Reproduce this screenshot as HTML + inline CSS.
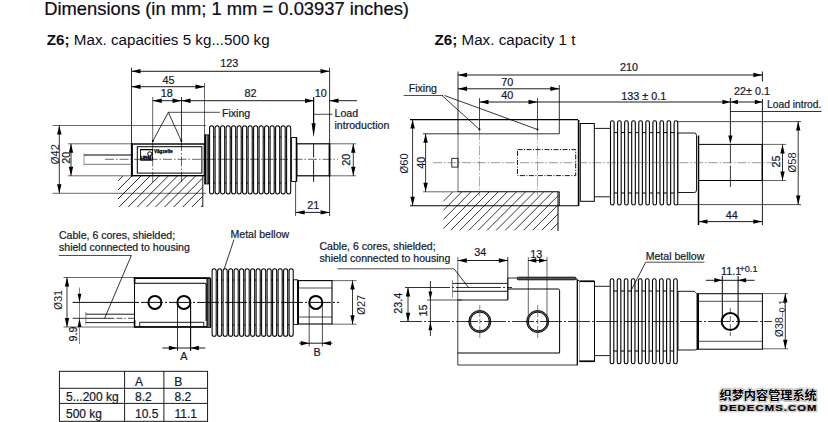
<!DOCTYPE html>
<html><head><meta charset="utf-8"><title>Dimensions Z6</title>
<style>
html,body{margin:0;padding:0;background:#fff;}
body{width:828px;height:422px;overflow:hidden;font-family:"Liberation Sans","Noto Sans CJK SC",sans-serif;}
svg{display:block;font-family:"Liberation Sans","Noto Sans CJK SC",sans-serif;}
</style></head><body>
<svg width="828" height="422" viewBox="0 0 828 422">
<rect width="828" height="422" fill="#fff"/>
<text x="44.2" y="14.8" font-size="18.36" text-anchor="start" fill="#0c0c18" stroke="#0c0c18" stroke-width="0.22">Dimensions (in mm; 1 mm = 0.03937 inches)</text>
<text x="46.8" y="44.6" font-size="15.2" fill="#0c0c18"><tspan font-weight="bold">Z6;</tspan> Max. capacities 5 kg...500 kg</text>
<text x="434.5" y="44.6" font-size="15.2" fill="#0c0c18"><tspan font-weight="bold">Z6;</tspan> Max. capacity 1 t</text>
<clipPath id="h1"><polygon points="118,176 202.6,176 202.6,207 118,207"/></clipPath>
<g clip-path="url(#h1)">
<line x1="113.70" y1="176" x2="82.70" y2="207" stroke="#000" stroke-width="0.85"/>
<line x1="122.80" y1="176" x2="91.80" y2="207" stroke="#000" stroke-width="0.85"/>
<line x1="131.90" y1="176" x2="100.90" y2="207" stroke="#000" stroke-width="0.85"/>
<line x1="141.00" y1="176" x2="110.00" y2="207" stroke="#000" stroke-width="0.85"/>
<line x1="150.10" y1="176" x2="119.10" y2="207" stroke="#000" stroke-width="0.85"/>
<line x1="159.20" y1="176" x2="128.20" y2="207" stroke="#000" stroke-width="0.85"/>
<line x1="168.30" y1="176" x2="137.30" y2="207" stroke="#000" stroke-width="0.85"/>
<line x1="177.40" y1="176" x2="146.40" y2="207" stroke="#000" stroke-width="0.85"/>
<line x1="186.50" y1="176" x2="155.50" y2="207" stroke="#000" stroke-width="0.85"/>
<line x1="195.60" y1="176" x2="164.60" y2="207" stroke="#000" stroke-width="0.85"/>
<line x1="204.70" y1="176" x2="173.70" y2="207" stroke="#000" stroke-width="0.85"/>
<line x1="213.80" y1="176" x2="182.80" y2="207" stroke="#000" stroke-width="0.85"/>
<line x1="222.90" y1="176" x2="191.90" y2="207" stroke="#000" stroke-width="0.85"/>
<line x1="232.00" y1="176" x2="201.00" y2="207" stroke="#000" stroke-width="0.85"/>
<line x1="241.10" y1="176" x2="210.10" y2="207" stroke="#000" stroke-width="0.85"/>
<line x1="250.20" y1="176" x2="219.20" y2="207" stroke="#000" stroke-width="0.85"/>
<line x1="259.30" y1="176" x2="228.30" y2="207" stroke="#000" stroke-width="0.85"/>
</g>
<line x1="202.8" y1="176" x2="202.8" y2="207" stroke="#000" stroke-width="0.9"/>
<line x1="52.5" y1="125.5" x2="206" y2="125.5" stroke="#000" stroke-width="0.6"/>
<line x1="52.5" y1="193.3" x2="206" y2="193.3" stroke="#000" stroke-width="0.6"/>
<line x1="59.3" y1="125.5" x2="59.3" y2="193.3" stroke="#000" stroke-width="0.8"/>
<polygon points="59.3,125.5 61.50,134.50 57.10,134.50" fill="#000"/>
<polygon points="59.3,193.3 57.10,184.30 61.50,184.30" fill="#000"/>
<text x="58.6" y="154.2" font-size="11" text-anchor="middle" fill="#15192e" transform="rotate(-90 58.6 154.2)"><tspan font-size="10">Ø</tspan>42</text>
<line x1="68" y1="143.8" x2="131" y2="143.8" stroke="#000" stroke-width="0.6"/>
<line x1="68" y1="175.8" x2="131" y2="175.8" stroke="#000" stroke-width="0.6"/>
<line x1="71" y1="143.8" x2="71" y2="175.8" stroke="#000" stroke-width="0.8"/>
<polygon points="71,143.8 73.20,152.80 68.80,152.80" fill="#000"/>
<polygon points="71,175.8 68.80,166.80 73.20,166.80" fill="#000"/>
<text x="70.4" y="157.8" font-size="10.8" text-anchor="middle" fill="#15192e" stroke="#15192e" stroke-width="0.22" transform="rotate(-90 70.4 157.8)">20</text>
<line x1="84" y1="155" x2="131.5" y2="155" stroke="#000" stroke-width="1.0"/>
<line x1="84" y1="164.3" x2="131.5" y2="164.3" stroke="#444" stroke-width="0.7"/>
<line x1="84" y1="153.5" x2="84" y2="165.5" stroke="#555" stroke-width="0.6"/>
<rect x="131.9" y="144" width="72.5" height="31.7" rx="0" fill="#fff" stroke="#000" stroke-width="1.4"/>
<line x1="131.8" y1="143.2" x2="131.8" y2="176.4" stroke="#000" stroke-width="1.8"/>
<rect x="137.3" y="146.7" width="64.6" height="26.4" rx="0" fill="none" stroke="#000" stroke-width="1.0"/>
<rect x="140.6" y="149.6" width="11.8" height="10.6" rx="0" fill="none" stroke="#000" stroke-width="0.9"/>
<line x1="140.2" y1="149.6" x2="152.8" y2="149.6" stroke="#000" stroke-width="1.2"/>
<circle cx="149.8" cy="153.9" r="2.1" fill="#fff" stroke="#000" stroke-width="1"/>
<text x="140.4" y="160.4" font-size="4.9" font-weight="bold" fill="#000" stroke="#000" stroke-width="0.35" letter-spacing="-0.1">HBM</text>
<text x="153.9" y="153.1" font-size="4.7" font-weight="bold" fill="#000" stroke="#000" stroke-width="0.25">Vägzelle</text>
<line x1="131.5" y1="67.6" x2="131.5" y2="143" stroke="#000" stroke-width="0.8"/>
<line x1="329.6" y1="67.6" x2="329.6" y2="216" stroke="#000" stroke-width="0.8"/>
<line x1="131.5" y1="71.3" x2="329.5" y2="71.3" stroke="#000" stroke-width="0.9"/>
<polygon points="131.5,71.3 140.50,69.10 140.50,73.50" fill="#000"/>
<polygon points="329.5,71.3 320.50,73.50 320.50,69.10" fill="#000"/>
<text x="229.2" y="66.8" font-size="10.8" text-anchor="middle" fill="#15192e" stroke="#15192e" stroke-width="0.22">123</text>
<line x1="204.5" y1="83" x2="204.5" y2="143" stroke="#000" stroke-width="0.6"/>
<line x1="131.5" y1="86.7" x2="204.5" y2="86.7" stroke="#000" stroke-width="0.9"/>
<polygon points="131.5,86.7 140.50,84.50 140.50,88.90" fill="#000"/>
<polygon points="204.5,86.7 195.50,88.90 195.50,84.50" fill="#000"/>
<text x="168.5" y="83.5" font-size="10.8" text-anchor="middle" fill="#15192e" stroke="#15192e" stroke-width="0.22">45</text>
<line x1="152.7" y1="141" x2="152.7" y2="182" stroke="#000" stroke-width="0.6" stroke-dasharray="10 2 1.5 2"/>
<line x1="181.5" y1="141" x2="181.5" y2="182" stroke="#000" stroke-width="0.6" stroke-dasharray="10 2 1.5 2"/>
<line x1="152.7" y1="97" x2="152.7" y2="141" stroke="#000" stroke-width="0.6"/>
<line x1="181.5" y1="97" x2="181.5" y2="141" stroke="#000" stroke-width="0.8"/>
<line x1="152.7" y1="100.7" x2="314" y2="100.7" stroke="#000" stroke-width="0.9"/>
<polygon points="152.7,100.7 161.70,98.50 161.70,102.90" fill="#000"/>
<polygon points="181.5,100.7 172.50,102.90 172.50,98.50" fill="#000"/>
<polygon points="181.5,100.7 190.50,98.50 190.50,102.90" fill="#000"/>
<polygon points="314,100.7 305.00,102.90 305.00,98.50" fill="#000"/>
<polygon points="329.5,100.7 338.50,98.50 338.50,102.90" fill="#000"/>
<line x1="329.5" y1="100.7" x2="357" y2="100.7" stroke="#000" stroke-width="0.9"/>
<text x="166.7" y="96.8" font-size="10.8" text-anchor="middle" fill="#15192e" stroke="#15192e" stroke-width="0.22">18</text>
<text x="250.5" y="96.8" font-size="10.8" text-anchor="middle" fill="#15192e" stroke="#15192e" stroke-width="0.22">82</text>
<text x="320.8" y="96.8" font-size="10.8" text-anchor="middle" fill="#15192e" stroke="#15192e" stroke-width="0.22">10</text>
<path d="M152.9 141 L168.3 112.3 L181.3 141" fill="none" stroke="#000" stroke-width="0.8"/>
<line x1="168.3" y1="112.3" x2="220" y2="112.3" stroke="#000" stroke-width="0.7"/>
<circle cx="152.8" cy="141" r="1" fill="#000"/><circle cx="181.4" cy="141" r="1" fill="#000"/>
<text x="222" y="116.8" font-size="10.6" text-anchor="start" fill="#15192e" stroke="#15192e" stroke-width="0.22">Fixing</text>
<line x1="313.6" y1="97" x2="313.6" y2="130" stroke="#000" stroke-width="1.2"/>
<polygon points="313.6,137.3 311.60,123.30 315.60,123.30" fill="#000"/>
<line x1="314" y1="114.3" x2="332.5" y2="114.3" stroke="#000" stroke-width="0.7"/>
<text x="334.5" y="117" font-size="10.6" text-anchor="start" fill="#15192e" stroke="#15192e" stroke-width="0.22">Load</text>
<text x="334.5" y="128.8" font-size="10.6" text-anchor="start" fill="#15192e" stroke="#15192e" stroke-width="0.22">introduction</text>
<rect x="204.7" y="134.8" width="4.3" height="49.2" rx="0" fill="#9a9a9a" stroke="#000" stroke-width="0.8"/>
<line x1="205.5" y1="135" x2="205.5" y2="184" stroke="#000" stroke-width="1.2"/>
<line x1="208.1" y1="135" x2="208.1" y2="184" stroke="#000" stroke-width="1.0"/>
<rect x="209.60" y="125.8" width="4.1" height="68.10000000000001" rx="2.05" fill="#fff" stroke="#000" stroke-width="1.05"/>
<rect x="215.10" y="125.8" width="4.1" height="68.10000000000001" rx="2.05" fill="#fff" stroke="#000" stroke-width="1.05"/>
<rect x="220.60" y="125.8" width="4.1" height="68.10000000000001" rx="2.05" fill="#fff" stroke="#000" stroke-width="1.05"/>
<rect x="226.10" y="125.8" width="4.1" height="68.10000000000001" rx="2.05" fill="#fff" stroke="#000" stroke-width="1.05"/>
<rect x="231.60" y="125.8" width="4.1" height="68.10000000000001" rx="2.05" fill="#fff" stroke="#000" stroke-width="1.05"/>
<rect x="237.10" y="125.8" width="4.1" height="68.10000000000001" rx="2.05" fill="#fff" stroke="#000" stroke-width="1.05"/>
<rect x="242.60" y="125.8" width="4.1" height="68.10000000000001" rx="2.05" fill="#fff" stroke="#000" stroke-width="1.05"/>
<rect x="248.10" y="125.8" width="4.1" height="68.10000000000001" rx="2.05" fill="#fff" stroke="#000" stroke-width="1.05"/>
<rect x="253.60" y="125.8" width="4.1" height="68.10000000000001" rx="2.05" fill="#fff" stroke="#000" stroke-width="1.05"/>
<rect x="259.10" y="125.8" width="4.1" height="68.10000000000001" rx="2.05" fill="#fff" stroke="#000" stroke-width="1.05"/>
<rect x="264.60" y="125.8" width="4.1" height="68.10000000000001" rx="2.05" fill="#fff" stroke="#000" stroke-width="1.05"/>
<rect x="270.10" y="125.8" width="4.1" height="68.10000000000001" rx="2.05" fill="#fff" stroke="#000" stroke-width="1.05"/>
<rect x="275.60" y="125.8" width="4.1" height="68.10000000000001" rx="2.05" fill="#fff" stroke="#000" stroke-width="1.05"/>
<rect x="281.10" y="125.8" width="4.1" height="68.10000000000001" rx="2.05" fill="#fff" stroke="#000" stroke-width="1.05"/>
<rect x="286.60" y="125.8" width="4.1" height="68.10000000000001" rx="2.05" fill="#fff" stroke="#000" stroke-width="1.05"/>
<line x1="213.70" y1="137" x2="215.10" y2="137" stroke="#000" stroke-width="1.0"/>
<line x1="213.70" y1="183" x2="215.10" y2="183" stroke="#000" stroke-width="1.0"/>
<line x1="219.20" y1="137" x2="220.60" y2="137" stroke="#000" stroke-width="1.0"/>
<line x1="219.20" y1="183" x2="220.60" y2="183" stroke="#000" stroke-width="1.0"/>
<line x1="224.70" y1="137" x2="226.10" y2="137" stroke="#000" stroke-width="1.0"/>
<line x1="224.70" y1="183" x2="226.10" y2="183" stroke="#000" stroke-width="1.0"/>
<line x1="230.20" y1="137" x2="231.60" y2="137" stroke="#000" stroke-width="1.0"/>
<line x1="230.20" y1="183" x2="231.60" y2="183" stroke="#000" stroke-width="1.0"/>
<line x1="235.70" y1="137" x2="237.10" y2="137" stroke="#000" stroke-width="1.0"/>
<line x1="235.70" y1="183" x2="237.10" y2="183" stroke="#000" stroke-width="1.0"/>
<line x1="241.20" y1="137" x2="242.60" y2="137" stroke="#000" stroke-width="1.0"/>
<line x1="241.20" y1="183" x2="242.60" y2="183" stroke="#000" stroke-width="1.0"/>
<line x1="246.70" y1="137" x2="248.10" y2="137" stroke="#000" stroke-width="1.0"/>
<line x1="246.70" y1="183" x2="248.10" y2="183" stroke="#000" stroke-width="1.0"/>
<line x1="252.20" y1="137" x2="253.60" y2="137" stroke="#000" stroke-width="1.0"/>
<line x1="252.20" y1="183" x2="253.60" y2="183" stroke="#000" stroke-width="1.0"/>
<line x1="257.70" y1="137" x2="259.10" y2="137" stroke="#000" stroke-width="1.0"/>
<line x1="257.70" y1="183" x2="259.10" y2="183" stroke="#000" stroke-width="1.0"/>
<line x1="263.20" y1="137" x2="264.60" y2="137" stroke="#000" stroke-width="1.0"/>
<line x1="263.20" y1="183" x2="264.60" y2="183" stroke="#000" stroke-width="1.0"/>
<line x1="268.70" y1="137" x2="270.10" y2="137" stroke="#000" stroke-width="1.0"/>
<line x1="268.70" y1="183" x2="270.10" y2="183" stroke="#000" stroke-width="1.0"/>
<line x1="274.20" y1="137" x2="275.60" y2="137" stroke="#000" stroke-width="1.0"/>
<line x1="274.20" y1="183" x2="275.60" y2="183" stroke="#000" stroke-width="1.0"/>
<line x1="279.70" y1="137" x2="281.10" y2="137" stroke="#000" stroke-width="1.0"/>
<line x1="279.70" y1="183" x2="281.10" y2="183" stroke="#000" stroke-width="1.0"/>
<line x1="285.20" y1="137" x2="286.60" y2="137" stroke="#000" stroke-width="1.0"/>
<line x1="285.20" y1="183" x2="286.60" y2="183" stroke="#000" stroke-width="1.0"/>
<rect x="291.6" y="137.5" width="4.8" height="44" rx="0" fill="#fff" stroke="#000" stroke-width="0.9"/>
<line x1="296.5" y1="137.5" x2="296.5" y2="181.5" stroke="#000" stroke-width="1.5"/>
<rect x="296.9" y="143.8" width="32.6" height="32" rx="0" fill="#fff" stroke="#000" stroke-width="1.2"/>
<line x1="329.5" y1="143.2" x2="329.5" y2="176.4" stroke="#000" stroke-width="1.6"/>
<line x1="313.6" y1="143.8" x2="313.6" y2="182" stroke="#000" stroke-width="0.9" stroke-dasharray="13.5 3 21.5 3"/>
<line x1="105" y1="159.3" x2="338" y2="159.3" stroke="#000" stroke-width="0.6" stroke-dasharray="9 2 1.5 2"/>
<line x1="329.5" y1="143.8" x2="356" y2="143.8" stroke="#000" stroke-width="0.6"/>
<line x1="329.5" y1="175.8" x2="356" y2="175.8" stroke="#000" stroke-width="0.6"/>
<line x1="353.3" y1="143.8" x2="353.3" y2="175.8" stroke="#000" stroke-width="0.8"/>
<polygon points="353.3,143.8 355.50,152.80 351.10,152.80" fill="#000"/>
<polygon points="353.3,175.8 351.10,166.80 355.50,166.80" fill="#000"/>
<text x="350.3" y="159.8" font-size="10.8" text-anchor="middle" fill="#15192e" stroke="#15192e" stroke-width="0.22" transform="rotate(-90 350.3 159.8)">20</text>
<line x1="295.6" y1="181" x2="295.6" y2="216" stroke="#000" stroke-width="0.7"/>
<line x1="295.6" y1="212.4" x2="329.6" y2="212.4" stroke="#000" stroke-width="0.9"/>
<polygon points="295.6,212.4 304.60,210.20 304.60,214.60" fill="#000"/>
<polygon points="329.6,212.4 320.60,214.60 320.60,210.20" fill="#000"/>
<text x="313.2" y="209" font-size="10.8" text-anchor="middle" fill="#15192e" stroke="#15192e" stroke-width="0.22">21</text>
<text x="59" y="238.6" font-size="10.55" text-anchor="start" fill="#15192e" stroke="#15192e" stroke-width="0.22">Cable, 6 cores, shielded;</text>
<text x="59" y="251.1" font-size="10.55" text-anchor="start" fill="#15192e" stroke="#15192e" stroke-width="0.22">shield connected to housing</text>
<line x1="58.8" y1="255.5" x2="131.3" y2="255.5" stroke="#000" stroke-width="0.7"/>
<line x1="131.3" y1="255.5" x2="104.5" y2="318.5" stroke="#000" stroke-width="0.8"/>
<text x="230.5" y="237.5" font-size="10.55" text-anchor="start" fill="#15192e" stroke="#15192e" stroke-width="0.22">Metal bellow</text>
<line x1="234" y1="239.5" x2="223.5" y2="271" stroke="#000" stroke-width="0.8"/>
<line x1="63.5" y1="277.5" x2="134.5" y2="277.5" stroke="#000" stroke-width="0.6"/>
<line x1="63.5" y1="327" x2="134.5" y2="327" stroke="#000" stroke-width="0.6"/>
<line x1="67" y1="277.5" x2="67" y2="327" stroke="#000" stroke-width="0.8"/>
<polygon points="67,277.5 69.20,286.50 64.80,286.50" fill="#000"/>
<polygon points="67,327 64.80,318.00 69.20,318.00" fill="#000"/>
<text x="61.6" y="299.8" font-size="11" text-anchor="middle" fill="#15192e" transform="rotate(-90 61.6 299.8)"><tspan font-size="10">Ø</tspan>31</text>
<line x1="79.5" y1="287.5" x2="79.5" y2="344" stroke="#333" stroke-width="0.6"/>
<polygon points="79.5,302.3 77.60,293.80 81.40,293.80" fill="#000"/>
<polygon points="79.5,318.6 81.40,327.10 77.60,327.10" fill="#000"/>
<line x1="72.5" y1="318.3" x2="86" y2="318.3" stroke="#000" stroke-width="0.8"/>
<text x="77.2" y="334" font-size="10.8" text-anchor="middle" fill="#15192e" stroke="#15192e" stroke-width="0.22" transform="rotate(-90 77.2 334)">9.9</text>
<line x1="85.8" y1="314.2" x2="134.5" y2="314.2" stroke="#000" stroke-width="0.9"/>
<line x1="85.8" y1="322.6" x2="134.5" y2="322.6" stroke="#000" stroke-width="0.9"/>
<line x1="85.8" y1="312" x2="85.8" y2="324.5" stroke="#444" stroke-width="0.6"/>
<line x1="86" y1="318.3" x2="113" y2="318.3" stroke="#000" stroke-width="0.8"/>
<line x1="113" y1="318.3" x2="137" y2="318.3" stroke="#000" stroke-width="0.7" stroke-dasharray="1.5 2 6 2"/>
<rect x="134.5" y="278.2" width="72.6" height="48.7" rx="0" fill="#fff" stroke="#000" stroke-width="1.0"/>
<line x1="133.8" y1="278.2" x2="210.4" y2="278.2" stroke="#000" stroke-width="1.7"/>
<line x1="134.5" y1="327" x2="207.2" y2="327" stroke="#000" stroke-width="1.4"/>
<line x1="134.6" y1="277.4" x2="134.6" y2="284" stroke="#000" stroke-width="1.6"/>
<line x1="134.6" y1="320" x2="134.6" y2="327.6" stroke="#000" stroke-width="1.6"/>
<path d="M134.6 283.2 H204.7 Q206.2 283.2 206.2 284.7 V321" fill="none" stroke="#000" stroke-width="1.15"/>
<path d="M139.7 327 V322.3 H203.8 V327" fill="none" stroke="#000" stroke-width="0.9"/>
<circle cx="154.9" cy="302.4" r="6.5" fill="none" stroke="#000" stroke-width="2.0"/>
<circle cx="183.9" cy="302.4" r="6.5" fill="none" stroke="#000" stroke-width="2.0"/>
<line x1="177.5" y1="302.5" x2="177.5" y2="351" stroke="#000" stroke-width="0.8"/>
<line x1="190.6" y1="302.5" x2="190.6" y2="351" stroke="#000" stroke-width="1.1"/>
<line x1="162.4" y1="348" x2="205.4" y2="348" stroke="#000" stroke-width="0.9"/>
<polygon points="177.4,348 168.90,350.20 168.90,345.80" fill="#000"/>
<polygon points="190.4,348 198.90,345.80 198.90,350.20" fill="#000"/>
<text x="183.9" y="360.2" font-size="10.8" text-anchor="middle" fill="#15192e" stroke="#15192e" stroke-width="0.22">A</text>
<rect x="207.2" y="278.5" width="3.4" height="49" rx="0" fill="#6a6a6a" stroke="#000" stroke-width="0.8"/>
<line x1="210.6" y1="278.5" x2="210.6" y2="327.5" stroke="#000" stroke-width="1.2"/>
<rect x="212.10" y="268.8" width="4.1" height="67.5" rx="2.05" fill="#fff" stroke="#000" stroke-width="1.05"/>
<rect x="217.60" y="268.8" width="4.1" height="67.5" rx="2.05" fill="#fff" stroke="#000" stroke-width="1.05"/>
<rect x="223.10" y="268.8" width="4.1" height="67.5" rx="2.05" fill="#fff" stroke="#000" stroke-width="1.05"/>
<rect x="228.60" y="268.8" width="4.1" height="67.5" rx="2.05" fill="#fff" stroke="#000" stroke-width="1.05"/>
<rect x="234.10" y="268.8" width="4.1" height="67.5" rx="2.05" fill="#fff" stroke="#000" stroke-width="1.05"/>
<rect x="239.60" y="268.8" width="4.1" height="67.5" rx="2.05" fill="#fff" stroke="#000" stroke-width="1.05"/>
<rect x="245.10" y="268.8" width="4.1" height="67.5" rx="2.05" fill="#fff" stroke="#000" stroke-width="1.05"/>
<rect x="250.60" y="268.8" width="4.1" height="67.5" rx="2.05" fill="#fff" stroke="#000" stroke-width="1.05"/>
<rect x="256.10" y="268.8" width="4.1" height="67.5" rx="2.05" fill="#fff" stroke="#000" stroke-width="1.05"/>
<rect x="261.60" y="268.8" width="4.1" height="67.5" rx="2.05" fill="#fff" stroke="#000" stroke-width="1.05"/>
<rect x="267.10" y="268.8" width="4.1" height="67.5" rx="2.05" fill="#fff" stroke="#000" stroke-width="1.05"/>
<rect x="272.60" y="268.8" width="4.1" height="67.5" rx="2.05" fill="#fff" stroke="#000" stroke-width="1.05"/>
<rect x="278.10" y="268.8" width="4.1" height="67.5" rx="2.05" fill="#fff" stroke="#000" stroke-width="1.05"/>
<rect x="283.60" y="268.8" width="4.1" height="67.5" rx="2.05" fill="#fff" stroke="#000" stroke-width="1.05"/>
<rect x="289.10" y="268.8" width="4.1" height="67.5" rx="2.05" fill="#fff" stroke="#000" stroke-width="1.05"/>
<line x1="216.20" y1="280" x2="217.60" y2="280" stroke="#000" stroke-width="1.0"/>
<line x1="216.20" y1="325" x2="217.60" y2="325" stroke="#000" stroke-width="1.0"/>
<line x1="221.70" y1="280" x2="223.10" y2="280" stroke="#000" stroke-width="1.0"/>
<line x1="221.70" y1="325" x2="223.10" y2="325" stroke="#000" stroke-width="1.0"/>
<line x1="227.20" y1="280" x2="228.60" y2="280" stroke="#000" stroke-width="1.0"/>
<line x1="227.20" y1="325" x2="228.60" y2="325" stroke="#000" stroke-width="1.0"/>
<line x1="232.70" y1="280" x2="234.10" y2="280" stroke="#000" stroke-width="1.0"/>
<line x1="232.70" y1="325" x2="234.10" y2="325" stroke="#000" stroke-width="1.0"/>
<line x1="238.20" y1="280" x2="239.60" y2="280" stroke="#000" stroke-width="1.0"/>
<line x1="238.20" y1="325" x2="239.60" y2="325" stroke="#000" stroke-width="1.0"/>
<line x1="243.70" y1="280" x2="245.10" y2="280" stroke="#000" stroke-width="1.0"/>
<line x1="243.70" y1="325" x2="245.10" y2="325" stroke="#000" stroke-width="1.0"/>
<line x1="249.20" y1="280" x2="250.60" y2="280" stroke="#000" stroke-width="1.0"/>
<line x1="249.20" y1="325" x2="250.60" y2="325" stroke="#000" stroke-width="1.0"/>
<line x1="254.70" y1="280" x2="256.10" y2="280" stroke="#000" stroke-width="1.0"/>
<line x1="254.70" y1="325" x2="256.10" y2="325" stroke="#000" stroke-width="1.0"/>
<line x1="260.20" y1="280" x2="261.60" y2="280" stroke="#000" stroke-width="1.0"/>
<line x1="260.20" y1="325" x2="261.60" y2="325" stroke="#000" stroke-width="1.0"/>
<line x1="265.70" y1="280" x2="267.10" y2="280" stroke="#000" stroke-width="1.0"/>
<line x1="265.70" y1="325" x2="267.10" y2="325" stroke="#000" stroke-width="1.0"/>
<line x1="271.20" y1="280" x2="272.60" y2="280" stroke="#000" stroke-width="1.0"/>
<line x1="271.20" y1="325" x2="272.60" y2="325" stroke="#000" stroke-width="1.0"/>
<line x1="276.70" y1="280" x2="278.10" y2="280" stroke="#000" stroke-width="1.0"/>
<line x1="276.70" y1="325" x2="278.10" y2="325" stroke="#000" stroke-width="1.0"/>
<line x1="282.20" y1="280" x2="283.60" y2="280" stroke="#000" stroke-width="1.0"/>
<line x1="282.20" y1="325" x2="283.60" y2="325" stroke="#000" stroke-width="1.0"/>
<line x1="287.70" y1="280" x2="289.10" y2="280" stroke="#000" stroke-width="1.0"/>
<line x1="287.70" y1="325" x2="289.10" y2="325" stroke="#000" stroke-width="1.0"/>
<rect x="293.6" y="279.8" width="4" height="44.6" rx="0" fill="#fff" stroke="#000" stroke-width="0.9"/>
<rect x="297.8" y="280.6" width="34.2" height="43.4" rx="0" fill="#fff" stroke="#000" stroke-width="1.1"/>
<line x1="298" y1="288" x2="332" y2="288" stroke="#000" stroke-width="0.7"/>
<line x1="298" y1="317" x2="332" y2="317" stroke="#000" stroke-width="0.7"/>
<line x1="298.2" y1="280.6" x2="298.2" y2="324" stroke="#000" stroke-width="1.6"/>
<circle cx="315.8" cy="302.4" r="6.5" fill="none" stroke="#000" stroke-width="2.0"/>
<line x1="309.2" y1="302.5" x2="309.2" y2="346.5" stroke="#000" stroke-width="0.7"/>
<line x1="322.4" y1="302.5" x2="322.4" y2="346.5" stroke="#000" stroke-width="0.7"/>
<line x1="299.2" y1="343.2" x2="332.4" y2="343.2" stroke="#000" stroke-width="0.9"/>
<polygon points="309.2,343.2 300.70,345.40 300.70,341.00" fill="#000"/>
<polygon points="322.4,343.2 330.90,341.00 330.90,345.40" fill="#000"/>
<text x="317" y="356.3" font-size="10.8" text-anchor="middle" fill="#15192e" stroke="#15192e" stroke-width="0.22">B</text>
<line x1="332" y1="280.6" x2="356.5" y2="280.6" stroke="#000" stroke-width="0.6"/>
<line x1="332" y1="324.2" x2="356.5" y2="324.2" stroke="#000" stroke-width="0.6"/>
<line x1="352.5" y1="280.6" x2="352.5" y2="324.2" stroke="#000" stroke-width="0.8"/>
<polygon points="352.5,280.6 354.70,289.60 350.30,289.60" fill="#000"/>
<polygon points="352.5,324.2 350.30,315.20 354.70,315.20" fill="#000"/>
<text x="364.6" y="304.8" font-size="11" text-anchor="middle" fill="#15192e" transform="rotate(-90 364.6 304.8)"><tspan font-size="10">Ø</tspan>27</text>
<line x1="72.5" y1="302.4" x2="137" y2="302.4" stroke="#000" stroke-width="0.95"/>
<line x1="137" y1="302.4" x2="339" y2="302.4" stroke="#000" stroke-width="0.95" stroke-dasharray="2 2 22 2"/>
<rect x="59.4" y="371.3" width="148.2" height="50" rx="0" fill="none" stroke="#000" stroke-width="0.9"/>
<line x1="59.4" y1="388.3" x2="207.6" y2="388.3" stroke="#000" stroke-width="0.9"/>
<line x1="59.4" y1="403.4" x2="207.6" y2="403.4" stroke="#000" stroke-width="0.9"/>
<line x1="124.6" y1="371.3" x2="124.6" y2="421" stroke="#000" stroke-width="0.9"/>
<line x1="163.9" y1="371.3" x2="163.9" y2="421" stroke="#000" stroke-width="0.9"/>
<text x="135" y="385.8" font-size="12.0" text-anchor="start" fill="#15192e" stroke="#15192e" stroke-width="0.22">A</text>
<text x="174.3" y="385.8" font-size="12.0" text-anchor="start" fill="#15192e" stroke="#15192e" stroke-width="0.22">B</text>
<text x="66" y="401.3" font-size="12.0" text-anchor="start" fill="#15192e" stroke="#15192e" stroke-width="0.22">5...200 kg</text>
<text x="135" y="401.3" font-size="12.0" text-anchor="start" fill="#15192e" stroke="#15192e" stroke-width="0.22">8.2</text>
<text x="174.5" y="401.3" font-size="12.0" text-anchor="start" fill="#15192e" stroke="#15192e" stroke-width="0.22">8.2</text>
<text x="66" y="418.2" font-size="12.0" text-anchor="start" fill="#15192e" stroke="#15192e" stroke-width="0.22">500 kg</text>
<text x="135" y="418.2" font-size="12.0" text-anchor="start" fill="#15192e" stroke="#15192e" stroke-width="0.22">10.5</text>
<text x="174.5" y="418.2" font-size="12.0" text-anchor="start" fill="#15192e" stroke="#15192e" stroke-width="0.22">11.1</text>
<clipPath id="h2"><polygon points="443.5,192 558,192 558,230.5 443.5,230.5"/></clipPath>
<g clip-path="url(#h2)">
<line x1="443.50" y1="192" x2="405.00" y2="230.5" stroke="#000" stroke-width="0.8"/>
<line x1="452.60" y1="192" x2="414.10" y2="230.5" stroke="#000" stroke-width="0.8"/>
<line x1="461.70" y1="192" x2="423.20" y2="230.5" stroke="#000" stroke-width="0.8"/>
<line x1="470.80" y1="192" x2="432.30" y2="230.5" stroke="#000" stroke-width="0.8"/>
<line x1="479.90" y1="192" x2="441.40" y2="230.5" stroke="#000" stroke-width="0.8"/>
<line x1="489.00" y1="192" x2="450.50" y2="230.5" stroke="#000" stroke-width="0.8"/>
<line x1="498.10" y1="192" x2="459.60" y2="230.5" stroke="#000" stroke-width="0.8"/>
<line x1="507.20" y1="192" x2="468.70" y2="230.5" stroke="#000" stroke-width="0.8"/>
<line x1="516.30" y1="192" x2="477.80" y2="230.5" stroke="#000" stroke-width="0.8"/>
<line x1="525.40" y1="192" x2="486.90" y2="230.5" stroke="#000" stroke-width="0.8"/>
<line x1="534.50" y1="192" x2="496.00" y2="230.5" stroke="#000" stroke-width="0.8"/>
<line x1="543.60" y1="192" x2="505.10" y2="230.5" stroke="#000" stroke-width="0.8"/>
<line x1="552.70" y1="192" x2="514.20" y2="230.5" stroke="#000" stroke-width="0.8"/>
<line x1="561.80" y1="192" x2="523.30" y2="230.5" stroke="#000" stroke-width="0.8"/>
<line x1="570.90" y1="192" x2="532.40" y2="230.5" stroke="#000" stroke-width="0.8"/>
<line x1="580.00" y1="192" x2="541.50" y2="230.5" stroke="#000" stroke-width="0.8"/>
<line x1="589.10" y1="192" x2="550.60" y2="230.5" stroke="#000" stroke-width="0.8"/>
<line x1="598.20" y1="192" x2="559.70" y2="230.5" stroke="#000" stroke-width="0.8"/>
<line x1="607.30" y1="192" x2="568.80" y2="230.5" stroke="#000" stroke-width="0.8"/>
<line x1="616.40" y1="192" x2="577.90" y2="230.5" stroke="#000" stroke-width="0.8"/>
<line x1="625.50" y1="192" x2="587.00" y2="230.5" stroke="#000" stroke-width="0.8"/>
<line x1="634.60" y1="192" x2="596.10" y2="230.5" stroke="#000" stroke-width="0.8"/>
</g>
<line x1="558" y1="192" x2="558" y2="231" stroke="#000" stroke-width="1.0"/>
<line x1="559.3" y1="191.8" x2="559.3" y2="206" stroke="#000" stroke-width="0.9"/>
<line x1="458" y1="71.5" x2="458" y2="134" stroke="#000" stroke-width="0.85"/>
<line x1="458" y1="134" x2="458" y2="192" stroke="#444" stroke-width="0.8"/>
<line x1="762.4" y1="71.5" x2="762.4" y2="81.6" stroke="#000" stroke-width="0.9"/>
<line x1="762.4" y1="99" x2="762.4" y2="225" stroke="#000" stroke-width="0.9"/>
<line x1="458" y1="75" x2="762.3" y2="75" stroke="#000" stroke-width="0.9"/>
<polygon points="458,75 467.00,72.80 467.00,77.20" fill="#000"/>
<polygon points="762.3,75 753.30,77.20 753.30,72.80" fill="#000"/>
<text x="629" y="70.8" font-size="10.8" text-anchor="middle" fill="#15192e" stroke="#15192e" stroke-width="0.22">210</text>
<line x1="559.3" y1="85" x2="559.3" y2="133.8" stroke="#000" stroke-width="0.8"/>
<line x1="458" y1="88.8" x2="559.3" y2="88.8" stroke="#000" stroke-width="0.9"/>
<polygon points="458,88.8 467.00,86.60 467.00,91.00" fill="#000"/>
<polygon points="559.3,88.8 550.30,91.00 550.30,86.60" fill="#000"/>
<text x="507.3" y="85.5" font-size="10.8" text-anchor="middle" fill="#15192e" stroke="#15192e" stroke-width="0.22">70</text>
<line x1="479.5" y1="98" x2="479.5" y2="130" stroke="#000" stroke-width="0.7"/>
<line x1="537.5" y1="98" x2="537.5" y2="130" stroke="#000" stroke-width="0.7"/>
<line x1="479.5" y1="130" x2="479.5" y2="196" stroke="#666" stroke-width="0.55" stroke-dasharray="10 2 1.5 2"/>
<line x1="537.5" y1="130" x2="537.5" y2="196" stroke="#666" stroke-width="0.55" stroke-dasharray="10 2 1.5 2"/>
<line x1="479.5" y1="102" x2="762.3" y2="102" stroke="#000" stroke-width="0.9"/>
<polygon points="479.5,102 488.50,99.80 488.50,104.20" fill="#000"/>
<polygon points="537.5,102 528.50,104.20 528.50,99.80" fill="#000"/>
<polygon points="730.4,102 722.40,104.20 722.40,99.80" fill="#000"/>
<polygon points="730.4,102 737.90,99.80 737.90,104.20" fill="#000"/>
<polygon points="762.3,102 754.80,104.20 754.80,99.80" fill="#000"/>
<text x="507.3" y="98.8" font-size="10.8" text-anchor="middle" fill="#15192e" stroke="#15192e" stroke-width="0.22">40</text>
<text x="643.8" y="99.5" font-size="10.8" text-anchor="middle" fill="#15192e" stroke="#15192e" stroke-width="0.22">133 ± 0.1</text>
<text x="752" y="95" font-size="10.8" text-anchor="middle" fill="#15192e" stroke="#15192e" stroke-width="0.22">22± 0.1</text>
<text x="767" y="107.7" font-size="10.3" text-anchor="start" fill="#15192e" stroke="#15192e" stroke-width="0.22">Load introd.</text>
<line x1="730.4" y1="111.5" x2="821.5" y2="111.5" stroke="#000" stroke-width="0.8"/>
<line x1="730.4" y1="98" x2="730.4" y2="140" stroke="#000" stroke-width="0.9"/>
<polygon points="730.4,144 728.30,135.50 732.50,135.50" fill="#000"/>
<line x1="730.4" y1="144.3" x2="730.4" y2="187" stroke="#000" stroke-width="0.8" stroke-dasharray="19 2.3 21.5 3"/>
<text x="408.7" y="91.8" font-size="10.6" text-anchor="start" fill="#15192e" stroke="#15192e" stroke-width="0.22">Fixing</text>
<line x1="403.7" y1="95.5" x2="443" y2="95.5" stroke="#000" stroke-width="0.7"/>
<line x1="442" y1="95.5" x2="479.5" y2="129.5" stroke="#000" stroke-width="0.8"/>
<line x1="444.5" y1="95.5" x2="537.5" y2="129.5" stroke="#000" stroke-width="0.8"/>
<circle cx="479.5" cy="129.5" r="1" fill="#000"/><circle cx="537.5" cy="129.5" r="1" fill="#000"/>
<line x1="410" y1="119.6" x2="578" y2="119.6" stroke="#000" stroke-width="1.1"/>
<line x1="410" y1="205.7" x2="578" y2="205.7" stroke="#000" stroke-width="1.1"/>
<line x1="412.6" y1="119.6" x2="412.6" y2="205.7" stroke="#000" stroke-width="0.8"/>
<polygon points="412.6,119.6 414.80,128.60 410.40,128.60" fill="#000"/>
<polygon points="412.6,205.7 410.40,196.70 414.80,196.70" fill="#000"/>
<text x="408.3" y="163.5" font-size="11" text-anchor="middle" fill="#15192e" transform="rotate(-90 408.3 163.5)"><tspan font-size="10">Ø</tspan>60</text>
<line x1="423" y1="133.8" x2="559.3" y2="133.8" stroke="#000" stroke-width="0.8"/>
<line x1="423" y1="191.8" x2="458" y2="191.8" stroke="#000" stroke-width="0.6"/>
<line x1="458" y1="191.8" x2="559.3" y2="191.8" stroke="#000" stroke-width="1.1"/>
<line x1="425.6" y1="133.8" x2="425.6" y2="191.8" stroke="#000" stroke-width="0.8"/>
<polygon points="425.6,133.8 427.80,142.80 423.40,142.80" fill="#000"/>
<polygon points="425.6,191.8 423.40,182.80 427.80,182.80" fill="#000"/>
<text x="425.3" y="162.8" font-size="10.8" text-anchor="middle" fill="#15192e" stroke="#15192e" stroke-width="0.22" transform="rotate(-90 425.3 162.8)">40</text>
<rect x="451.8" y="158.3" width="6.2" height="8.8" rx="0" fill="none" stroke="#000" stroke-width="0.8"/>
<rect x="517.5" y="149.6" width="58.2" height="26" rx="0" fill="none" stroke="#000" stroke-width="0.9" stroke-dasharray="5 1.5 1 1.5"/>
<line x1="578.6" y1="120" x2="578.6" y2="206" stroke="#000" stroke-width="1.6"/>
<rect x="580.3" y="123.5" width="14" height="77.8" rx="0" fill="#fff" stroke="#000" stroke-width="1.0"/>
<line x1="594.3" y1="128.4" x2="610" y2="128.4" stroke="#000" stroke-width="0.9"/>
<line x1="594.3" y1="196.8" x2="610" y2="196.8" stroke="#000" stroke-width="0.9"/>
<rect x="610.50" y="120.7" width="3.6" height="84.3" rx="1.8" fill="#fff" stroke="#000" stroke-width="1.1"/>
<rect x="617.57" y="120.7" width="3.6" height="84.3" rx="1.8" fill="#fff" stroke="#000" stroke-width="1.1"/>
<rect x="624.64" y="120.7" width="3.6" height="84.3" rx="1.8" fill="#fff" stroke="#000" stroke-width="1.1"/>
<rect x="631.71" y="120.7" width="3.6" height="84.3" rx="1.8" fill="#fff" stroke="#000" stroke-width="1.1"/>
<rect x="638.78" y="120.7" width="3.6" height="84.3" rx="1.8" fill="#fff" stroke="#000" stroke-width="1.1"/>
<rect x="645.85" y="120.7" width="3.6" height="84.3" rx="1.8" fill="#fff" stroke="#000" stroke-width="1.1"/>
<rect x="652.92" y="120.7" width="3.6" height="84.3" rx="1.8" fill="#fff" stroke="#000" stroke-width="1.1"/>
<rect x="659.99" y="120.7" width="3.6" height="84.3" rx="1.8" fill="#fff" stroke="#000" stroke-width="1.1"/>
<rect x="667.06" y="120.7" width="3.6" height="84.3" rx="1.8" fill="#fff" stroke="#000" stroke-width="1.1"/>
<rect x="674.13" y="120.7" width="3.6" height="84.3" rx="1.8" fill="#fff" stroke="#000" stroke-width="1.1"/>
<line x1="614.10" y1="132.6" x2="617.57" y2="132.6" stroke="#000" stroke-width="1.0"/>
<line x1="614.10" y1="193" x2="617.57" y2="193" stroke="#000" stroke-width="1.0"/>
<line x1="621.17" y1="132.6" x2="624.64" y2="132.6" stroke="#000" stroke-width="1.0"/>
<line x1="621.17" y1="193" x2="624.64" y2="193" stroke="#000" stroke-width="1.0"/>
<line x1="628.24" y1="132.6" x2="631.71" y2="132.6" stroke="#000" stroke-width="1.0"/>
<line x1="628.24" y1="193" x2="631.71" y2="193" stroke="#000" stroke-width="1.0"/>
<line x1="635.31" y1="132.6" x2="638.78" y2="132.6" stroke="#000" stroke-width="1.0"/>
<line x1="635.31" y1="193" x2="638.78" y2="193" stroke="#000" stroke-width="1.0"/>
<line x1="642.38" y1="132.6" x2="645.85" y2="132.6" stroke="#000" stroke-width="1.0"/>
<line x1="642.38" y1="193" x2="645.85" y2="193" stroke="#000" stroke-width="1.0"/>
<line x1="649.45" y1="132.6" x2="652.92" y2="132.6" stroke="#000" stroke-width="1.0"/>
<line x1="649.45" y1="193" x2="652.92" y2="193" stroke="#000" stroke-width="1.0"/>
<line x1="656.52" y1="132.6" x2="659.99" y2="132.6" stroke="#000" stroke-width="1.0"/>
<line x1="656.52" y1="193" x2="659.99" y2="193" stroke="#000" stroke-width="1.0"/>
<line x1="663.59" y1="132.6" x2="667.06" y2="132.6" stroke="#000" stroke-width="1.0"/>
<line x1="663.59" y1="193" x2="667.06" y2="193" stroke="#000" stroke-width="1.0"/>
<line x1="670.66" y1="132.6" x2="674.13" y2="132.6" stroke="#000" stroke-width="1.0"/>
<line x1="670.66" y1="193" x2="674.13" y2="193" stroke="#000" stroke-width="1.0"/>
<path d="M678 133 H694.5 Q696.5 133 696.5 135.5 V190 Q696.5 192.5 694.5 192.5 H678 Z" fill="#fff" stroke="#000" stroke-width="0.9"/>
<line x1="698.5" y1="135.5" x2="698.5" y2="225" stroke="#000" stroke-width="1.5"/>
<line x1="698.5" y1="144.4" x2="762.3" y2="144.4" stroke="#000" stroke-width="1.0"/>
<line x1="698.5" y1="180.5" x2="762.3" y2="180.5" stroke="#000" stroke-width="1.0"/>
<line x1="762.3" y1="144" x2="762.3" y2="181" stroke="#000" stroke-width="1.4"/>
<line x1="677" y1="121.6" x2="801" y2="121.6" stroke="#000" stroke-width="0.7"/>
<line x1="677" y1="204.6" x2="801" y2="204.6" stroke="#000" stroke-width="0.7"/>
<line x1="798.2" y1="121.6" x2="798.2" y2="204.6" stroke="#000" stroke-width="0.8"/>
<polygon points="798.2,121.6 800.40,130.60 796.00,130.60" fill="#000"/>
<polygon points="798.2,204.6 796.00,195.60 800.40,195.60" fill="#000"/>
<text x="795.8" y="162.5" font-size="11" text-anchor="middle" fill="#15192e" transform="rotate(-90 795.8 162.5)"><tspan font-size="10">Ø</tspan>58</text>
<line x1="762.3" y1="144.4" x2="786" y2="144.4" stroke="#000" stroke-width="0.6"/>
<line x1="762.3" y1="180.5" x2="786" y2="180.5" stroke="#000" stroke-width="0.6"/>
<line x1="782.5" y1="144.4" x2="782.5" y2="180.5" stroke="#000" stroke-width="0.8"/>
<polygon points="782.5,144.4 784.70,153.40 780.30,153.40" fill="#000"/>
<polygon points="782.5,180.5 780.30,171.50 784.70,171.50" fill="#000"/>
<text x="780.2" y="161.5" font-size="10.8" text-anchor="middle" fill="#15192e" stroke="#15192e" stroke-width="0.22" transform="rotate(-90 780.2 161.5)">25</text>
<line x1="698.5" y1="221.6" x2="762.3" y2="221.6" stroke="#000" stroke-width="0.9"/>
<polygon points="698.5,221.6 707.50,219.40 707.50,223.80" fill="#000"/>
<polygon points="762.3,221.6 753.30,223.80 753.30,219.40" fill="#000"/>
<text x="731.8" y="219.3" font-size="10.8" text-anchor="middle" fill="#15192e" stroke="#15192e" stroke-width="0.22">44</text>
<line x1="433" y1="162.7" x2="776" y2="162.7" stroke="#555" stroke-width="0.6" stroke-dasharray="9 2 1.5 2"/>
<text x="319.5" y="249.5" font-size="10.55" text-anchor="start" fill="#15192e" stroke="#15192e" stroke-width="0.22">Cable, 6 cores, shielded;</text>
<text x="319.5" y="261.8" font-size="10.55" text-anchor="start" fill="#15192e" stroke="#15192e" stroke-width="0.22">shield connected to housing</text>
<line x1="337.5" y1="268.8" x2="454" y2="268.8" stroke="#000" stroke-width="0.7"/>
<line x1="454" y1="268.8" x2="468.5" y2="287.5" stroke="#000" stroke-width="0.8"/>
<line x1="457.8" y1="257" x2="457.8" y2="300" stroke="#000" stroke-width="0.6"/>
<line x1="507.8" y1="257" x2="507.8" y2="300" stroke="#000" stroke-width="0.8"/>
<line x1="457.8" y1="260.5" x2="507.8" y2="260.5" stroke="#000" stroke-width="0.9"/>
<polygon points="457.8,260.5 466.80,258.30 466.80,262.70" fill="#000"/>
<polygon points="507.8,260.5 498.80,262.70 498.80,258.30" fill="#000"/>
<text x="480.3" y="256.3" font-size="10.8" text-anchor="middle" fill="#15192e" stroke="#15192e" stroke-width="0.22">34</text>
<line x1="528.3" y1="257" x2="528.3" y2="322" stroke="#000" stroke-width="0.6"/>
<line x1="547" y1="257" x2="547" y2="322" stroke="#000" stroke-width="0.6"/>
<line x1="528.3" y1="260.5" x2="547" y2="260.5" stroke="#000" stroke-width="0.9"/>
<polygon points="528.3,260.5 536.30,258.30 536.30,262.70" fill="#000"/>
<polygon points="547,260.5 539.00,262.70 539.00,258.30" fill="#000"/>
<text x="536.3" y="257.5" font-size="10.8" text-anchor="middle" fill="#15192e" stroke="#15192e" stroke-width="0.22">13</text>
<line x1="452.5" y1="283.4" x2="507.8" y2="283.4" stroke="#000" stroke-width="0.9"/>
<line x1="452.5" y1="291.3" x2="507.8" y2="291.3" stroke="#000" stroke-width="0.9"/>
<line x1="452.5" y1="280" x2="452.5" y2="297.5" stroke="#444" stroke-width="0.6"/>
<line x1="405" y1="287.5" x2="512" y2="287.5" stroke="#000" stroke-width="0.8" stroke-dasharray="45 2 2 2"/>
<line x1="427" y1="300" x2="461.5" y2="300" stroke="#000" stroke-width="0.7"/>
<line x1="457.8" y1="300" x2="507.8" y2="300" stroke="#000" stroke-width="0.9"/>
<path d="M507.8 300 V278 H518" fill="none" stroke="#000" stroke-width="0.8"/>
<rect x="517.2" y="277.2" width="58.8" height="2.6" rx="1.3" fill="#555" stroke="#000" stroke-width="0.9"/>
<line x1="576" y1="278.6" x2="579.6" y2="281.3" stroke="#000" stroke-width="0.9"/>
<path d="M507.8 289 H558.3 Q559.6 289 559.6 290.3 V353 H457.8" fill="none" stroke="#000" stroke-width="1.0"/>
<path d="M457.8 300 V365 H577.8" fill="none" stroke="#222" stroke-width="0.9"/>
<circle cx="479.8" cy="321.5" r="10.2" fill="none" stroke="#666" stroke-width="1.8"/>
<circle cx="479.8" cy="321.5" r="11.0" fill="none" stroke="#000" stroke-width="0.9"/>
<circle cx="479.8" cy="321.5" r="9.4" fill="none" stroke="#000" stroke-width="0.9"/>
<line x1="479.8" y1="305" x2="479.8" y2="338" stroke="#333" stroke-width="0.6" stroke-dasharray="5 2"/>
<circle cx="537.7" cy="321.5" r="10.2" fill="none" stroke="#666" stroke-width="1.8"/>
<circle cx="537.7" cy="321.5" r="11.0" fill="none" stroke="#000" stroke-width="0.9"/>
<circle cx="537.7" cy="321.5" r="9.4" fill="none" stroke="#000" stroke-width="0.9"/>
<line x1="537.7" y1="305" x2="537.7" y2="338" stroke="#333" stroke-width="0.6" stroke-dasharray="5 2"/>
<line x1="430.4" y1="281" x2="430.4" y2="336" stroke="#000" stroke-width="0.8"/>
<polygon points="430.4,300 428.50,291.50 432.30,291.50" fill="#000"/>
<polygon points="430.4,321.8 432.30,330.30 428.50,330.30" fill="#000"/>
<text x="427" y="310.5" font-size="10.8" text-anchor="middle" fill="#15192e" stroke="#15192e" stroke-width="0.22" transform="rotate(-90 427 310.5)">15</text>
<line x1="408" y1="287.5" x2="408" y2="321.8" stroke="#000" stroke-width="0.8"/>
<polygon points="408,287.5 410.20,296.50 405.80,296.50" fill="#000"/>
<polygon points="408,321.8 405.80,312.80 410.20,312.80" fill="#000"/>
<text x="402.2" y="303.2" font-size="10.8" text-anchor="middle" fill="#15192e" stroke="#15192e" stroke-width="0.22" transform="rotate(-90 402.2 303.2)">23.4</text>
<line x1="577.3" y1="279.5" x2="577.3" y2="365" stroke="#000" stroke-width="1.3"/>
<line x1="579.8" y1="281.3" x2="579.8" y2="362" stroke="#000" stroke-width="0.8"/>
<path d="M579.6 281.3 H594.5 V361.3 H579.6" fill="#fff" stroke="#000" stroke-width="1.0"/>
<line x1="579.6" y1="281.3" x2="594.5" y2="281.3" stroke="#000" stroke-width="1.6"/>
<line x1="579.6" y1="361.3" x2="594.5" y2="361.3" stroke="#000" stroke-width="1.6"/>
<line x1="594.5" y1="286.3" x2="609.5" y2="286.3" stroke="#000" stroke-width="0.9"/>
<line x1="594.5" y1="355.6" x2="609.5" y2="355.6" stroke="#000" stroke-width="0.9"/>
<rect x="610.20" y="278.8" width="3.6" height="85.0" rx="1.8" fill="#fff" stroke="#000" stroke-width="1.1"/>
<rect x="617.25" y="278.8" width="3.6" height="85.0" rx="1.8" fill="#fff" stroke="#000" stroke-width="1.1"/>
<rect x="624.30" y="278.8" width="3.6" height="85.0" rx="1.8" fill="#fff" stroke="#000" stroke-width="1.1"/>
<rect x="631.35" y="278.8" width="3.6" height="85.0" rx="1.8" fill="#fff" stroke="#000" stroke-width="1.1"/>
<rect x="638.40" y="278.8" width="3.6" height="85.0" rx="1.8" fill="#fff" stroke="#000" stroke-width="1.1"/>
<rect x="645.45" y="278.8" width="3.6" height="85.0" rx="1.8" fill="#fff" stroke="#000" stroke-width="1.1"/>
<rect x="652.50" y="278.8" width="3.6" height="85.0" rx="1.8" fill="#fff" stroke="#000" stroke-width="1.1"/>
<rect x="659.55" y="278.8" width="3.6" height="85.0" rx="1.8" fill="#fff" stroke="#000" stroke-width="1.1"/>
<rect x="666.60" y="278.8" width="3.6" height="85.0" rx="1.8" fill="#fff" stroke="#000" stroke-width="1.1"/>
<rect x="673.65" y="278.8" width="3.6" height="85.0" rx="1.8" fill="#fff" stroke="#000" stroke-width="1.1"/>
<line x1="613.80" y1="291" x2="617.25" y2="291" stroke="#000" stroke-width="1.0"/>
<line x1="613.80" y1="351" x2="617.25" y2="351" stroke="#000" stroke-width="1.0"/>
<line x1="620.85" y1="291" x2="624.30" y2="291" stroke="#000" stroke-width="1.0"/>
<line x1="620.85" y1="351" x2="624.30" y2="351" stroke="#000" stroke-width="1.0"/>
<line x1="627.90" y1="291" x2="631.35" y2="291" stroke="#000" stroke-width="1.0"/>
<line x1="627.90" y1="351" x2="631.35" y2="351" stroke="#000" stroke-width="1.0"/>
<line x1="634.95" y1="291" x2="638.40" y2="291" stroke="#000" stroke-width="1.0"/>
<line x1="634.95" y1="351" x2="638.40" y2="351" stroke="#000" stroke-width="1.0"/>
<line x1="642.00" y1="291" x2="645.45" y2="291" stroke="#000" stroke-width="1.0"/>
<line x1="642.00" y1="351" x2="645.45" y2="351" stroke="#000" stroke-width="1.0"/>
<line x1="649.05" y1="291" x2="652.50" y2="291" stroke="#000" stroke-width="1.0"/>
<line x1="649.05" y1="351" x2="652.50" y2="351" stroke="#000" stroke-width="1.0"/>
<line x1="656.10" y1="291" x2="659.55" y2="291" stroke="#000" stroke-width="1.0"/>
<line x1="656.10" y1="351" x2="659.55" y2="351" stroke="#000" stroke-width="1.0"/>
<line x1="663.15" y1="291" x2="666.60" y2="291" stroke="#000" stroke-width="1.0"/>
<line x1="663.15" y1="351" x2="666.60" y2="351" stroke="#000" stroke-width="1.0"/>
<line x1="670.20" y1="291" x2="673.65" y2="291" stroke="#000" stroke-width="1.0"/>
<line x1="670.20" y1="351" x2="673.65" y2="351" stroke="#000" stroke-width="1.0"/>
<path d="M678 291.3 H694.5 L697 293.8 V349.5 L694.5 350 H678 Z" fill="#fff" stroke="#000" stroke-width="0.9"/>
<rect x="697.6" y="293.7" width="64.8" height="55.5" rx="0" fill="#fff" stroke="#000" stroke-width="1.0"/>
<line x1="698.2" y1="293.7" x2="698.2" y2="349.2" stroke="#000" stroke-width="1.6"/>
<line x1="698.8" y1="301.3" x2="762.4" y2="301.3" stroke="#000" stroke-width="0.7"/>
<line x1="698.8" y1="341.3" x2="762.4" y2="341.3" stroke="#000" stroke-width="0.7"/>
<circle cx="730.3" cy="321.5" r="8.6" fill="none" stroke="#000" stroke-width="2.0"/>
<line x1="730.3" y1="308" x2="730.3" y2="336" stroke="#000" stroke-width="0.6" stroke-dasharray="6 2"/>
<line x1="722.3" y1="276" x2="722.3" y2="321.5" stroke="#000" stroke-width="1.0"/>
<line x1="738.1" y1="276" x2="738.1" y2="321.5" stroke="#000" stroke-width="1.0"/>
<line x1="705.8" y1="280.3" x2="754.6" y2="280.3" stroke="#000" stroke-width="0.9"/>
<polygon points="722.3,280.3 714.30,282.50 714.30,278.10" fill="#000"/>
<polygon points="738.1,280.3 746.10,278.10 746.10,282.50" fill="#000"/>
<text x="721" y="274.9" font-size="10.8" text-anchor="start" fill="#15192e" stroke="#15192e" stroke-width="0.22">11.1</text>
<text x="739.4" y="272" font-size="9.2" text-anchor="start" fill="#15192e" stroke="#15192e" stroke-width="0.22">+0.1</text>
<line x1="762.4" y1="293.6" x2="788" y2="293.6" stroke="#000" stroke-width="0.6"/>
<line x1="762.4" y1="348.8" x2="788" y2="348.8" stroke="#000" stroke-width="0.6"/>
<line x1="785.3" y1="293.6" x2="785.3" y2="348.8" stroke="#000" stroke-width="0.8"/>
<polygon points="785.3,293.6 787.50,302.60 783.10,302.60" fill="#000"/>
<polygon points="785.3,348.8 783.10,339.80 787.50,339.80" fill="#000"/>
<text x="782.6" y="318.5" font-size="11" text-anchor="middle" fill="#15192e" transform="rotate(-90 782.6 318.5)"><tspan font-size="10">Ø</tspan>38<tspan font-size="8.8" dy="2.2">–0.1</tspan></text>
<text x="645.7" y="259.5" font-size="10.55" text-anchor="start" fill="#15192e" stroke="#15192e" stroke-width="0.22">Metal bellow</text>
<line x1="645.7" y1="262.2" x2="704.5" y2="262.2" stroke="#000" stroke-width="0.7"/>
<line x1="645.7" y1="262.2" x2="630.7" y2="291.3" stroke="#000" stroke-width="0.8"/>
<line x1="400" y1="321.5" x2="772" y2="321.5" stroke="#000" stroke-width="0.8" stroke-dasharray="22 2 2 2"/>
<g font-weight="bold" stroke-linejoin="round">
<text x="719.6" y="400.2" font-size="12.15" font-family='"Liberation Sans","Noto Sans CJK SC",sans-serif' fill="#000" stroke="#bdbdbd" stroke-width="2.8">织梦内容管理系统</text>
<text x="719.6" y="400.2" font-size="12.15" font-family='"Liberation Sans","Noto Sans CJK SC",sans-serif' fill="#000" stroke="#fff" stroke-width="1.0">织梦内容管理系统</text>
<text x="719.6" y="400.2" font-size="12.15" font-family='"Liberation Sans","Noto Sans CJK SC",sans-serif' fill="#000">织梦内容管理系统</text>
<g transform="translate(719.8,411) scale(1.2,1)">
<text x="0" y="0" font-size="9.4" letter-spacing="0.9" fill="#000" stroke="#bdbdbd" stroke-width="2.6">DEDECMS.COM</text>
<text x="0" y="0" font-size="9.4" letter-spacing="0.9" fill="#000" stroke="#fff" stroke-width="0.9">DEDECMS.COM</text>
<text x="0" y="0" font-size="9.4" letter-spacing="0.9" fill="#000" stroke="#000" stroke-width="0.25">DEDECMS.COM</text>
</g></g>
</svg>
</body></html>
